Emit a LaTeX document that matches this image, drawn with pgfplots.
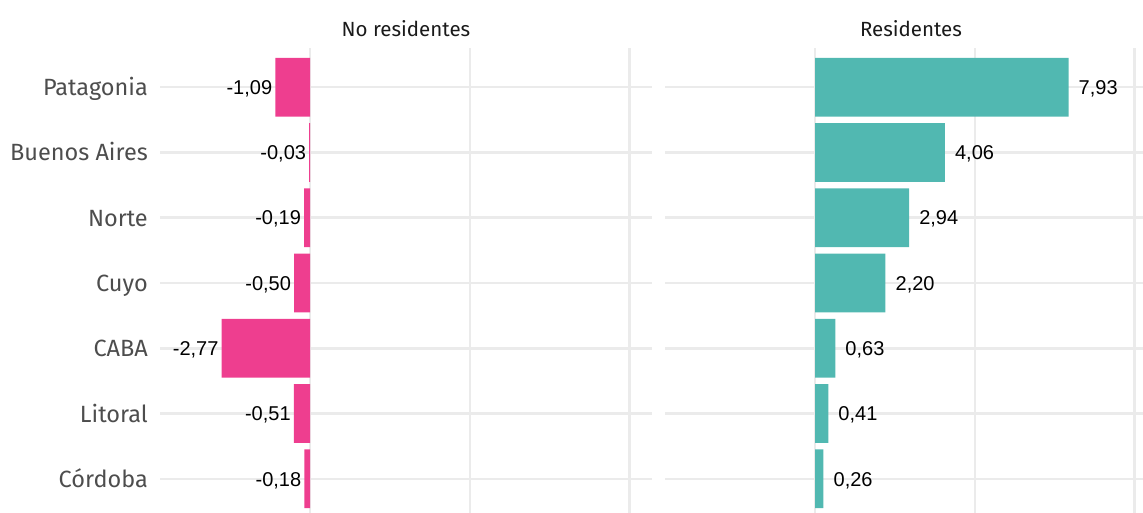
\documentclass[border=0pt]{standalone}
\usepackage{pgfplots}
\pgfplotsset{compat=1.18}
\usepackage{pgfplotstable}
\usepackage{fontspec}
\setmainfont{Fira Sans}
\newfontfamily\valfont{Liberation Sans}
\definecolor{pinkc}{HTML}{EE3E8F}
\definecolor{tealc}{HTML}{51B8B1}
\definecolor{gridc}{HTML}{EBEBEB}
\definecolor{labc}{HTML}{4D4D4D}
\definecolor{stripc}{HTML}{1A1A1A}

\pgfplotstableread{
y x label
6 -1.09 {-1,09}
5 -0.03 {-0,03}
4 -0.19 {-0,19}
3 -0.50 {-0,50}
2 -2.77 {-2,77}
1 -0.51 {-0,51}
0 -0.18 {-0,18}
}\nores

\pgfplotstableread{
y x label
6 7.93 {7,93}
5 4.06 {4,06}
4 2.94 {2,94}
3 2.20 {2,20}
2 0.63 {0,63}
1 0.41 {0,41}
0 0.26 {0,26}
}\res

\pgfplotsset{
  panel/.style={
    scale only axis, width=492pt, height=470pt,
    xmin=-4.7, xmax=10.7, ymin=-0.6, ymax=6.6,
    xbar, bar width=0.9, bar shift=0pt,
    axis line style={draw=none}, tick style={draw=none},
    major tick length=0pt,
    xtick={0,5,10}, xticklabels={},
    ytick={0,1,2,3,4,5,6},
    xmajorgrids, ymajorgrids,
    grid style={line width=2.6pt, color=gridc},
    title style={at={(0.5,1)}, anchor=base, yshift=5pt, inner sep=0pt,
      font=\fontsize{20.5}{24}\selectfont, text=stripc},
    nodes near coords, point meta=explicit symbolic,
    clip=false,
  }
}

\begin{document}
\begin{tikzpicture}
\begin{axis}[panel,
  at={(160pt,464pt)}, anchor=north west,
  title={No residentes},
  yticklabels={Córdoba,Litoral,CABA,Cuyo,Norte,Buenos Aires,Patagonia},
  yticklabel style={anchor=base east, inner sep=0pt, xshift=-12pt, yshift=-8.5pt,
    font=\fontsize{23.5}{28}\selectfont, text=labc},
  every node near coord/.append style={anchor=base east, inner sep=0pt,
    xshift=-3pt, yshift=-7.2pt, font=\valfont\fontsize{20}{24}\selectfont, text=black},
]
\addplot[fill=pinkc, draw=none] table[x=x, y=y, meta=label]{\nores};
\end{axis}

\begin{axis}[panel,
  at={(665pt,464pt)}, anchor=north west,
  title={Residentes},
  yticklabels={},
  every node near coord/.append style={anchor=base west, inner sep=0pt,
    xshift=10pt, yshift=-7.2pt, font=\valfont\fontsize{20}{24}\selectfont, text=black},
]
\addplot[fill=tealc, draw=none] table[x=x, y=y, meta=label]{\res};
\end{axis}
\pgfresetboundingbox
\useasboundingbox (0,0) rectangle (1143pt,512pt);
\end{tikzpicture}
\end{document}
